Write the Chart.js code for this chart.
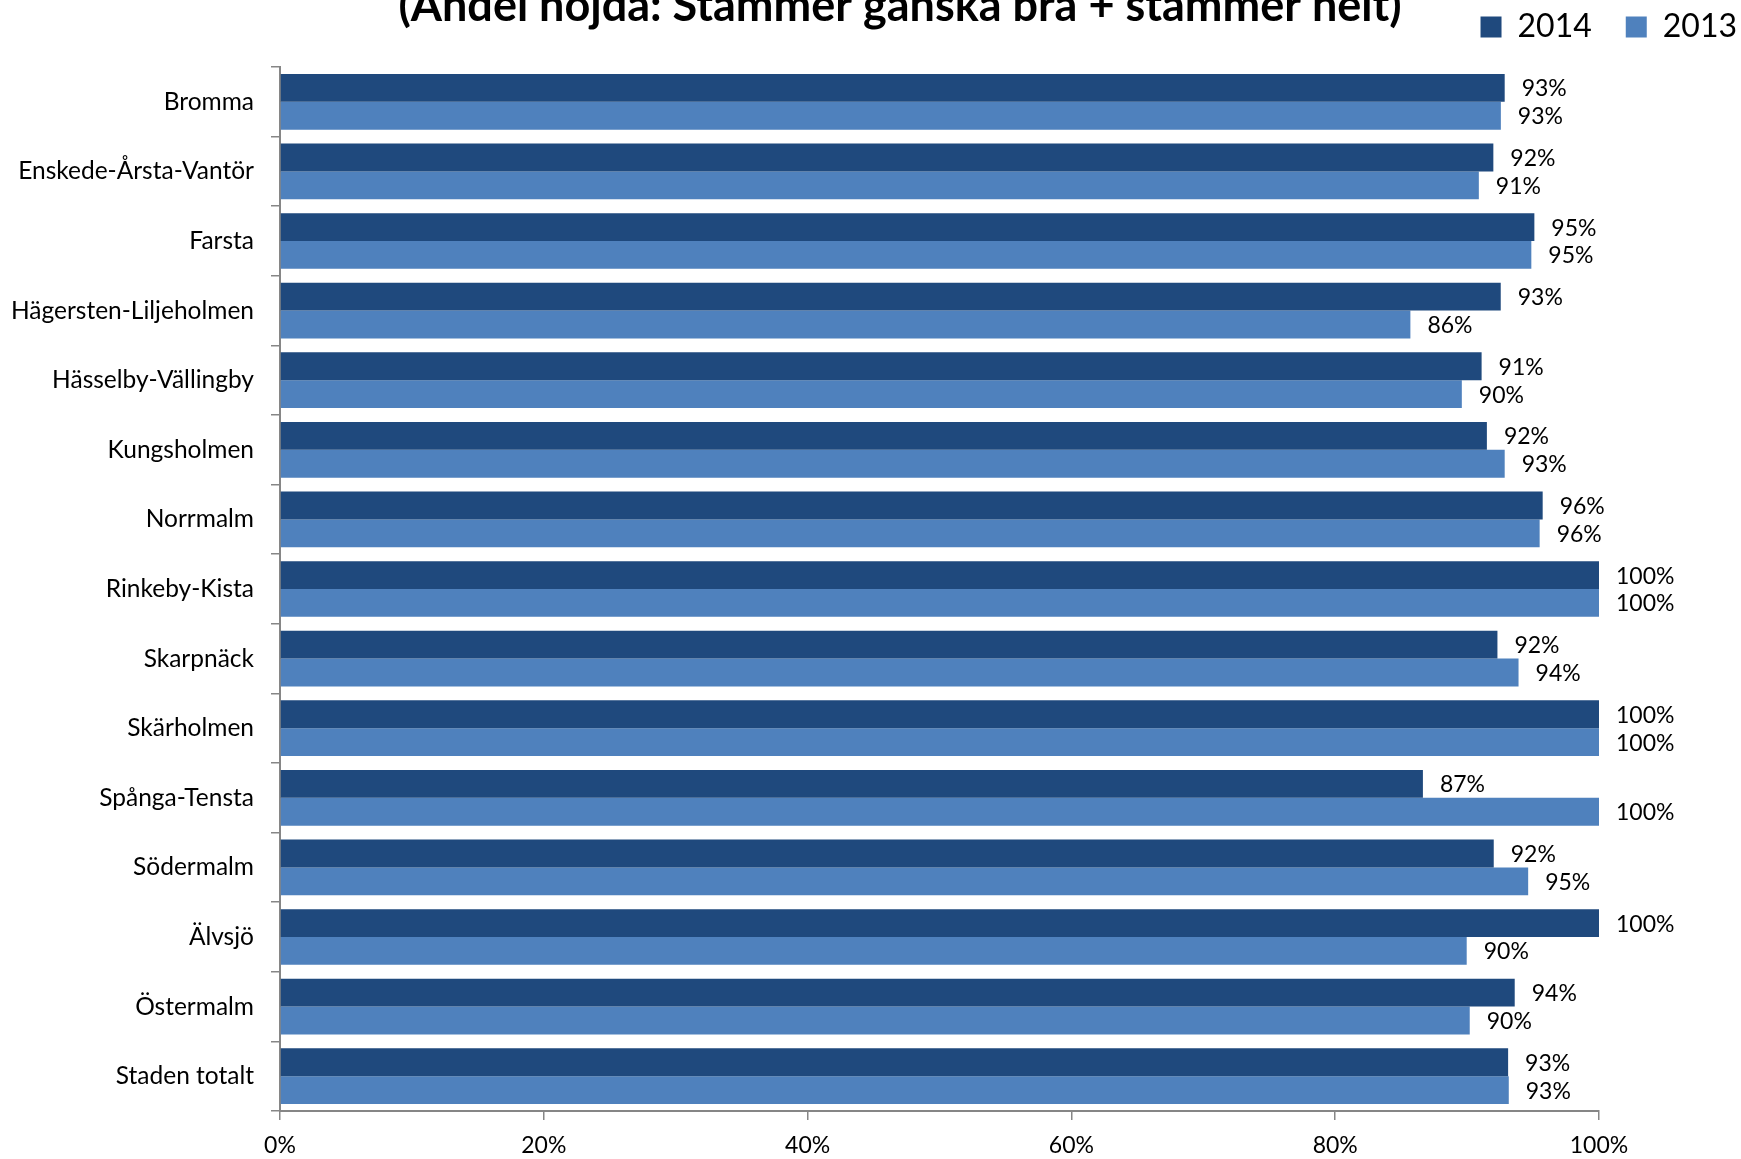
<!DOCTYPE html>
<html>
<head>
<meta charset="utf-8">
<script src="https://cdn.jsdelivr.net/npm/chart.js@4/dist/chart.umd.min.js"></script>
<style>
  html, body { margin: 0; padding: 0; background: #ffffff; }
  #wrap { width: 1741px; height: 1159px; }
</style>
</head>
<body>
<div id="wrap"><canvas id="c" width="1741" height="1159"></canvas></div>
<script>
const titleText = '(Andel nöjda: Stämmer ganska bra + stämmer helt)';
const categories = [
  'Bromma', 'Enskede-Årsta-Vantör', 'Farsta', 'Hägersten-Liljeholmen',
  'Hässelby-Vällingby', 'Kungsholmen', 'Norrmalm', 'Rinkeby-Kista',
  'Skarpnäck', 'Skärholmen', 'Spånga-Tensta', 'Södermalm', 'Älvsjö',
  'Östermalm', 'Staden totalt'
];
const seriesNames = ['2014', '2013'];
const values2014 = [92.85, 91.99, 95.1, 92.55, 91.1, 91.5, 95.73, 100, 92.3, 100, 86.65, 92.02, 100, 93.61, 93.11];
const values2013 = [92.56, 90.89, 94.87, 85.7, 89.6, 92.85, 95.5, 100, 93.9, 100, 100, 94.63, 89.97, 90.2, 93.16];
const xTicks = [0, 20, 40, 60, 80, 100];

const FONT = 'Lato, "Open Sans", sans-serif';
const AXIS_GREY = '#868686';

const titlePlugin = {
  id: 'topTitle',
  afterDraw(chart) {
    const ctx = chart.ctx;
    ctx.save();
    ctx.font = 'bold 45px ' + FONT;
    ctx.fillStyle = '#000000';
    ctx.textAlign = 'center';
    ctx.textBaseline = 'alphabetic';
    ctx.fillText(titleText, 900, 21);
    ctx.restore();
  }
};

const valueLabels = {
  id: 'valueLabels',
  afterDatasetsDraw(chart) {
    const ctx = chart.ctx;
    ctx.save();
    ctx.font = '23px ' + FONT;
    ctx.fillStyle = '#000000';
    ctx.textAlign = 'left';
    ctx.textBaseline = 'middle';
    chart.data.datasets.forEach((ds, di) => {
      const meta = chart.getDatasetMeta(di);
      meta.data.forEach((bar, i) => {
        ctx.fillText(Math.round(ds.data[i]) + '%', bar.x + 17, bar.y + 1);
      });
    });
    ctx.restore();
  }
};

new Chart(document.getElementById('c'), {
  type: 'bar',
  data: {
    labels: categories,
    datasets: [
      { label: seriesNames[0], data: values2014, backgroundColor: '#1F497D', borderWidth: 0 },
      { label: seriesNames[1], data: values2013, backgroundColor: '#4F81BD', borderWidth: 0 }
    ]
  },
  options: {
    indexAxis: 'y',
    responsive: false,
    animation: false,
    datasets: { bar: { categoryPercentage: 0.8, barPercentage: 1.0 } },
    layout: { padding: { top: -23, right: -30, bottom: -12, left: 0 } },
    plugins: {
      title: { display: false },
      tooltip: { enabled: false },
      legend: {
        display: true,
        position: 'top',
        align: 'end',
        labels: {
          boxWidth: 21,
          boxHeight: 21,
          padding: 34,
          color: '#000000',
          font: { family: FONT, size: 32 }
        }
      }
    },
    scales: {
      x: {
        type: 'linear',
        min: 0,
        max: 100,
        afterBuildTicks(scale) { scale.ticks = xTicks.map(v => ({ value: v })); },
        ticks: {
          color: '#000000',
          font: { family: FONT, size: 23, lineHeight: 1 },
          padding: 14,
          maxRotation: 0,
          callback: v => v + '%'
        },
        grid: {
          display: true,
          drawOnChartArea: false,
          drawTicks: true,
          tickLength: 9,
          color: AXIS_GREY,
          tickColor: AXIS_GREY,
          lineWidth: 1.5
        },
        border: { display: true, color: AXIS_GREY, width: 2 }
      },
      xTopSpace: {
        type: 'linear',
        position: 'top',
        display: true,
        afterFit(scale) { scale.height = 14; },
        ticks: { display: false },
        grid: { display: false, drawTicks: false },
        border: { display: false }
      },
      y: {
        type: 'category',
        position: 'left',
        afterFit(scale) { scale.width = 280; },
        ticks: {
          color: '#000000',
          font: { family: FONT, size: 24.5 },
          padding: 17,
          autoSkip: false
        },
        grid: {
          display: true,
          offset: true,
          drawOnChartArea: false,
          drawTicks: true,
          tickLength: 9,
          color: AXIS_GREY,
          tickColor: AXIS_GREY,
          lineWidth: 1.5
        },
        border: { display: true, color: AXIS_GREY, width: 2 }
      },
      yRight: {
        type: 'category',
        position: 'right',
        display: true,
        afterFit(scale) { scale.width = 172; },
        ticks: { display: false },
        grid: { display: false, drawTicks: false },
        border: { display: false }
      }
    }
  },
  plugins: [titlePlugin, valueLabels]
});
</script>
</body>
</html>
